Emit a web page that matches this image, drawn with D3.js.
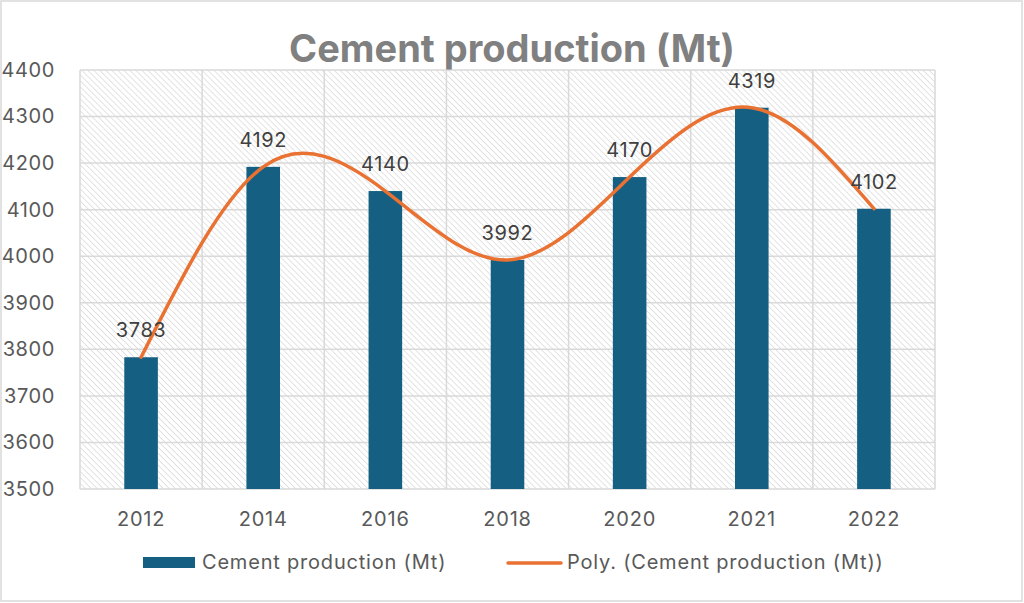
<!DOCTYPE html>
<html>
<head>
<meta charset="utf-8">
<script src="https://cdn.jsdelivr.net/npm/d3@7"></script>
<style>
  html, body { margin: 0; padding: 0; background: #fff; }
  svg { display: block; font-family: Inter, "Liberation Sans", Arial, sans-serif; }
</style>
</head>
<body>
<div id="container"><svg></svg></div>
<script>
// data
const years = ['2012', '2014', '2016', '2018', '2020', '2021', '2022'];
const production = [3783, 4192, 4140, 3992, 4170, 4319, 4102];
const y_ticks = [3500, 3600, 3700, 3800, 3900, 4000, 4100, 4200, 4300, 4400];

const width = 1024, height = 603;
const padding = { left: 80, right: 89, top: 70, bottom: 114 };
const bar_color = '#156082';
const line_color = '#E97132';
const text_color = '#595959';
const grid_color = '#d9d9d9';
const font = 'Inter, "Liberation Sans", Arial, sans-serif';

let svg = d3.select('#container').select('svg')
    .attr('width', width)
    .attr('height', height);

// hatch pattern for the plot background
let defs = svg.append('defs');
let pat = defs.append('pattern')
    .attr('id', 'hatch')
    .attr('patternUnits', 'userSpaceOnUse')
    .attr('width', 4.25)
    .attr('height', 4.25)
    .attr('patternTransform', 'rotate(45)');
pat.append('rect').attr('width', 4.25).attr('height', 4.25).attr('fill', '#fff');
pat.append('line')
    .attr('x1', 0).attr('y1', 0).attr('x2', 4.25).attr('y2', 0)
    .attr('stroke', '#dedede')
    .attr('stroke-width', 1.7);

// outer border
svg.append('rect')
    .attr('x', 1).attr('y', 1)
    .attr('width', width - 3).attr('height', height - 3)
    .attr('fill', '#fff')
    .attr('stroke', grid_color)
    .attr('stroke-width', 1.5);

let x = d3.scaleBand()
    .domain(years)
    .range([padding.left, width - padding.right])
    .paddingInner(0)
    .paddingOuter(0);

let y = d3.scaleLinear()
    .domain([3500, 4400])
    .range([height - padding.bottom, padding.top]);

// plot area background
svg.append('rect')
    .attr('x', padding.left)
    .attr('y', padding.top)
    .attr('width', width - padding.left - padding.right)
    .attr('height', height - padding.top - padding.bottom)
    .attr('fill', 'url(#hatch)');

// grid lines
let grid = svg.append('g').attr('stroke', grid_color).attr('stroke-width', 1.5);
grid.selectAll('line.h')
    .data(y_ticks)
    .enter().append('line')
    .attr('class', 'h')
    .attr('x1', padding.left).attr('x2', width - padding.right)
    .attr('y1', d => y(d)).attr('y2', d => y(d));
grid.selectAll('line.v')
    .data(years.concat(['end']))
    .enter().append('line')
    .attr('class', 'v')
    .attr('x1', (d, i) => i < years.length ? x(d) : x(years[years.length - 1]) + x.bandwidth())
    .attr('x2', (d, i) => i < years.length ? x(d) : x(years[years.length - 1]) + x.bandwidth())
    .attr('y1', padding.top).attr('y2', height - padding.bottom);

// y axis labels
let axis_y = d3.axisLeft(y).tickValues(y_ticks).tickSize(0).tickPadding(0).tickFormat(d3.format('d'));
svg.append('g')
    .attr('transform', `translate(${55}, 0)`)
    .call(axis_y)
    .call(g => g.select('.domain').remove())
    .selectAll('text')
    .attr('fill', text_color)
    .attr('font-size', '20px')
    .attr('letter-spacing', '0.6px')
    .attr('font-family', font);

// x axis labels
let axis_x = d3.axisBottom(x).tickSize(0).tickPadding(0);
svg.append('g')
    .attr('transform', `translate(0, ${height - padding.bottom + 23})`)
    .call(axis_x)
    .call(g => g.select('.domain').remove())
    .selectAll('text')
    .attr('fill', text_color)
    .attr('font-size', '20px')
    .attr('letter-spacing', '0.8px')
    .attr('font-family', font);

// bars
let bar_w = x.bandwidth() * 0.275;
svg.append('g')
    .selectAll('rect')
    .data(production)
    .enter().append('rect')
    .attr('x', (d, i) => x(years[i]) + x.bandwidth() / 2 - bar_w / 2)
    .attr('y', d => y(d))
    .attr('width', bar_w)
    .attr('height', d => y(3500) - y(d))
    .attr('fill', bar_color);

// polynomial trendline (smooth curve through the values)
let line = d3.line()
    .x((d, i) => x(years[i]) + x.bandwidth() / 2)
    .y(d => y(d))
    .curve(d3.curveNatural);
svg.append('path')
    .datum(production)
    .attr('d', line)
    .attr('fill', 'none')
    .attr('stroke', line_color)
    .attr('stroke-width', 3.5)
    .attr('stroke-linecap', 'round');

// data labels
svg.append('g')
    .selectAll('text')
    .data(production)
    .enter().append('text')
    .attr('x', (d, i) => x(years[i]) + x.bandwidth() / 2)
    .attr('y', d => y(d) - 20)
    .attr('text-anchor', 'middle')
    .attr('fill', '#404040')
    .attr('font-size', '20px')
    .attr('letter-spacing', '0.6px')
    .text(d => d);

// title
svg.append('text')
    .attr('x', 512)
    .attr('y', 62)
    .attr('text-anchor', 'middle')
    .attr('fill', '#808080')
    .attr('font-size', '38px')
    .attr('font-weight', 'bold')
    .text('Cement production (Mt)');

// legend
let legend = svg.append('g').attr('font-size', '20px').attr('fill', text_color).attr('letter-spacing', '0.8px');
legend.append('rect')
    .attr('x', 143).attr('y', 557)
    .attr('width', 52).attr('height', 11)
    .attr('fill', bar_color);
legend.append('text')
    .attr('x', 202).attr('y', 569)
    .text('Cement production (Mt)');
legend.append('line')
    .attr('x1', 508).attr('x2', 561)
    .attr('y1', 563).attr('y2', 563)
    .attr('stroke', line_color)
    .attr('stroke-width', 3.5)
    .attr('stroke-linecap', 'round');
legend.append('text')
    .attr('x', 567).attr('y', 569)
    .text('Poly. (Cement production (Mt))');
</script>
</body>
</html>
